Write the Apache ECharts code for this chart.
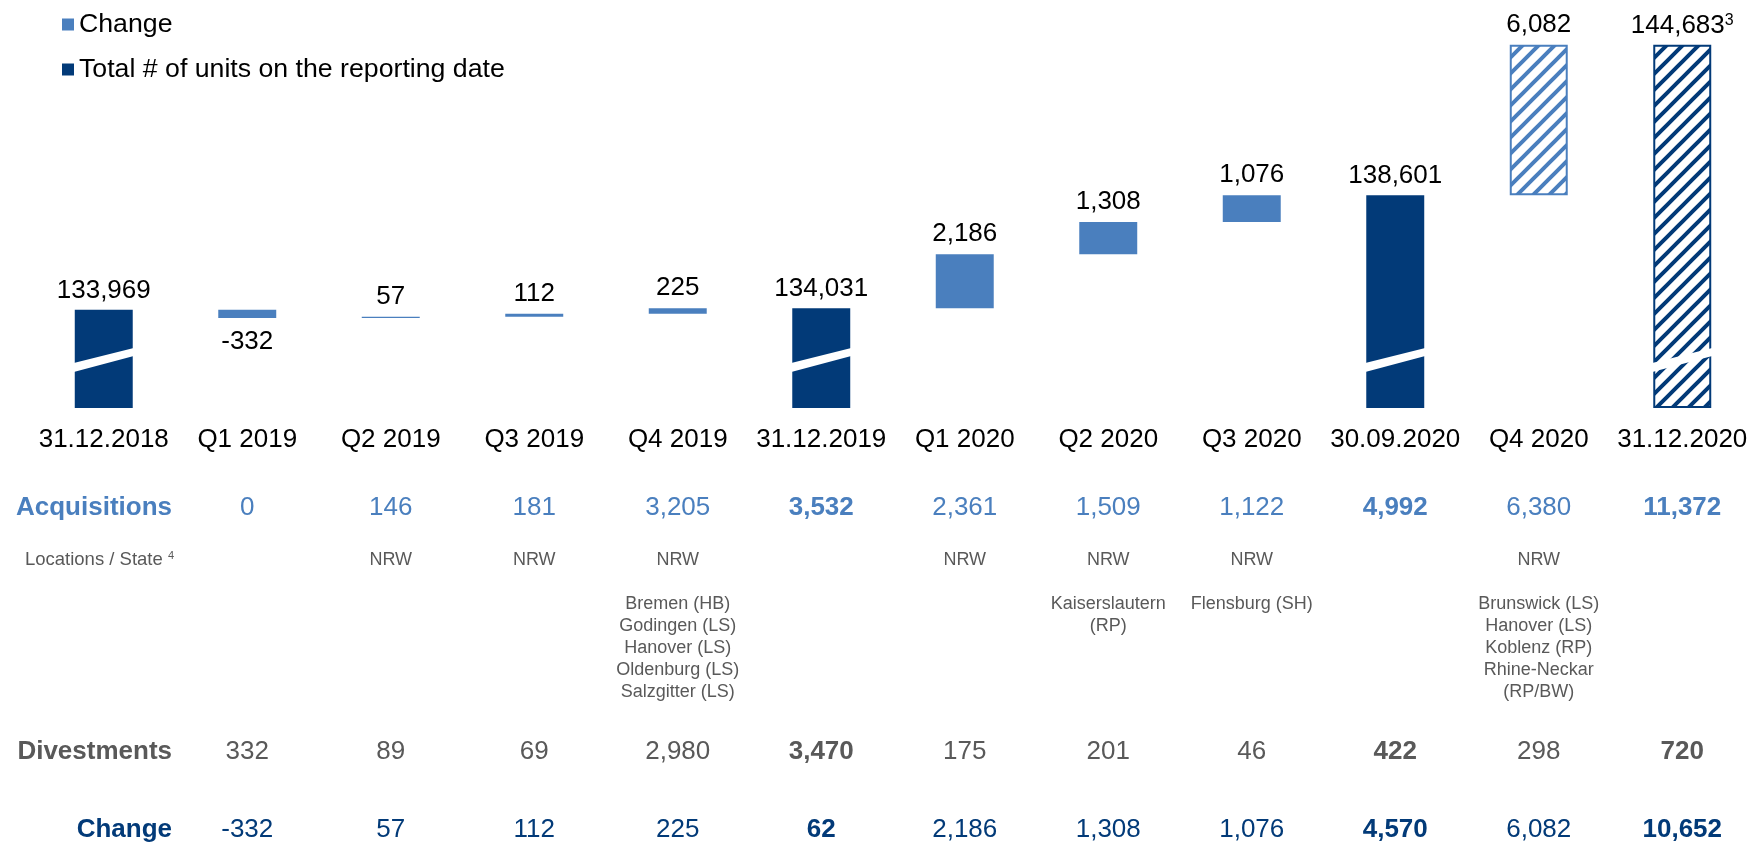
<!DOCTYPE html>
<html>
<head>
<meta charset="utf-8">
<title>Portfolio development</title>
<script src="https://cdn.jsdelivr.net/npm/echarts@6/dist/echarts.min.js"></script>
<style>
  html, body { margin: 0; padding: 0; background: #ffffff; }
  #chart { width: 1754px; height: 844px; }
</style>
</head>
<body>
<div id="chart"></div>
<script>
// ---- data -------------------------------------------------------------
const categories = ['31.12.2018', 'Q1 2019', 'Q2 2019', 'Q3 2019', 'Q4 2019', '31.12.2019',
                    'Q1 2020', 'Q2 2020', 'Q3 2020', '30.09.2020', 'Q4 2020', '31.12.2020'];
// units on the reporting date (null = quarter column)
const totals  = [133969, null, null, null, null, 134031, null, null, null, 138601, null, 144683];
// quarterly net change (null = reporting-date column)
const changes = [null, -332, 57, 112, 225, null, 2186, 1308, 1076, null, 6082, null];
// columns shown as outlook (hatched)
const outlook = [false, false, false, false, false, false, false, false, false, false, true, true];
// footnote markers on the total labels
const totalNotes = ['', '', '', '', '', '', '', '', '', '', '', '3'];

const acquisitions = [null, 0, 146, 181, 3205, 3532, 2361, 1509, 1122, 4992, 6380, 11372];
const states       = ['', '', 'NRW', 'NRW', 'NRW', '', 'NRW', 'NRW', 'NRW', '', 'NRW', ''];
const cities = [
  [], [], [], [],
  ['Bremen (HB)', 'Godingen (LS)', 'Hanover (LS)', 'Oldenburg (LS)', 'Salzgitter (LS)'],
  [], [],
  ['Kaiserslautern', '(RP)'],
  ['Flensburg (SH)'],
  [],
  ['Brunswick (LS)', 'Hanover (LS)', 'Koblenz (RP)', 'Rhine-Neckar', '(RP/BW)'],
  []
];
const divestments = [null, 332, 89, 69, 2980, 3470, 175, 201, 46, 422, 298, 720];
const netChange   = [null, -332, 57, 112, 225, 62, 2186, 1308, 1076, 4570, 6082, 10652];

const rowHeaders = ['Acquisitions', 'Locations / State', 'Divestments', 'Change'];
const seriesNames = ['Change', 'Total # of units on the reporting date'];

// ---- styling ----------------------------------------------------------
const LIGHT = '#4a7fbe';
const NAVY  = '#023a78';
const GREY  = '#595959';
const FONT  = '"Liberation Sans", Arial, Helvetica, sans-serif';
const Y_MIN = 130000, Y_MAX = 145000;
const BAR_RATIO = 0.404;

const fmt = v => (v == null ? '' : Number(v).toLocaleString('en-US'));
const isSubtotal = categories.map((c, i) => totals[i] != null && i > 0);

// diagonal stripe tile used for the outlook bars
function hatch(color) {
  const P = 16;
  const c = document.createElement('canvas');
  c.width = P; c.height = P;
  const g = c.getContext('2d');
  g.strokeStyle = color;
  g.lineWidth = 4;
  g.beginPath();
  g.moveTo(-P / 2, P / 2); g.lineTo(P / 2, -P / 2);
  g.moveTo(0, P);          g.lineTo(P, 0);
  g.moveTo(P / 2, 1.5 * P); g.lineTo(1.5 * P, P / 2);
  g.stroke();
  return { image: c, repeat: 'repeat' };
}

// ---- waterfall geometry from the data ----------------------------------
const changeData = [];
const totalData = [];
let running = totals[0];
categories.forEach((c, i) => {
  if (totals[i] != null) {
    running = totals[i];
    totalData.push([i, totals[i]]);
  } else if (changes[i] != null) {
    const next = running + changes[i];
    changeData.push([i, Math.min(running, next), Math.max(running, next), changes[i]]);
    running = next;
  }
});

function renderChange(params, api) {
  const i = api.value(0), lo = api.value(1), hi = api.value(2), d = api.value(3);
  const w = api.size([1, 0])[0] * BAR_RATIO;
  const top = api.coord([i, hi]);
  const bot = api.coord([i, lo]);
  const h = Math.max(bot[1] - top[1], 1.2);
  const hatched = outlook[i];
  const shape = hatched
    ? { x: top[0] - w / 2 + 1, y: top[1] + 1, width: w - 2, height: h - 2 }
    : { x: top[0] - w / 2, y: top[1], width: w, height: h };
  return {
    type: 'rect',
    shape: shape,
    style: hatched ? { fill: hatch(LIGHT), stroke: LIGHT, lineWidth: 2 } : { fill: LIGHT },
    textContent: {
      type: 'text',
      style: { text: fmt(d), fontSize: 26, fontFamily: FONT, fill: '#000' }
    },
    textConfig: { position: d < 0 ? 'bottom' : 'top', distance: d < 0 ? 11 : 7 }
  };
}

function renderTotal(params, api) {
  const i = api.value(0), v = api.value(1);
  const w = api.size([1, 0])[0] * BAR_RATIO;
  const top = api.coord([i, v]);
  const base = api.coord([i, Y_MIN]);
  const x0 = top[0] - w / 2, x1 = top[0] + w / 2, yb = base[1];
  const hatched = outlook[i];
  const shape = hatched
    ? { x: x0 + 1, y: top[1] + 1, width: w - 2, height: yb - top[1] - 2 }
    : { x: x0, y: top[1], width: w, height: yb - top[1] };
  const note = totalNotes[i] ? '{sup|' + totalNotes[i] + '}' : '';
  return {
    type: 'group',
    children: [
      {
        type: 'rect',
        shape: shape,
        style: hatched ? { fill: hatch(NAVY), stroke: NAVY, lineWidth: 2 } : { fill: NAVY },
        textContent: {
          type: 'text',
          style: {
            text: fmt(v) + note, fontSize: 26, fontFamily: FONT, fill: '#000',
            rich: { sup: { fontSize: 16, fontFamily: FONT, fill: '#000', verticalAlign: 'top' } }
          }
        },
        textConfig: { position: 'top', distance: 6 }
      },
      // axis-break slash across the truncated bar
      {
        type: 'polygon',
        shape: { points: [[x0 - 1, yb - 36], [x1 + 1, yb - 52], [x1 + 1, yb - 60], [x0 - 1, yb - 45]] },
        style: { fill: '#ffffff' }
      }
    ]
  };
}

// ---- table rows drawn as extra category axes ---------------------------
function rowAxis(values, offset, color, size, lineHeight) {
  const fs = size || 26;
  const lh = lineHeight || undefined;
  return {
    type: 'category',
    gridIndex: 0,
    position: 'bottom',
    offset: offset,
    data: values,
    axisLine: { show: false },
    axisTick: { show: false },
    splitLine: { show: false },
    axisLabel: {
      interval: 0,
      margin: 0,
      hideOverlap: false,
      fontSize: fs,
      lineHeight: lh,
      fontFamily: FONT,
      color: color,
      formatter: (val, idx) => (val === '' ? '' : (isSubtotal[idx] ? '{b|' + val + '}' : val)),
      rich: { b: { fontWeight: 'bold', fontSize: fs, lineHeight: lh, fontFamily: FONT, color: color } }
    }
  };
}

const locationLabels = categories.map((c, i) =>
  [states[i]].concat(cities[i].length ? [''].concat(cities[i]) : []).join('\n'));

const chart = echarts.init(document.getElementById('chart'), null, { renderer: 'canvas' });

chart.setOption({
  animation: false,
  backgroundColor: '#ffffff',
  textStyle: { fontFamily: FONT },
  legend: {
    data: seriesNames,
    orient: 'vertical',
    left: 57,
    top: 6,
    icon: 'rect',
    itemWidth: 12,
    itemHeight: 12,
    itemGap: 18,
    itemTextGap: 5,
    textStyle: { fontSize: 26.7, fontFamily: FONT, color: '#000' }
  },
  grid: { left: 32, top: 37, width: 1725, height: 371 },
  xAxis: [
    {
      type: 'category',
      data: categories,
      axisLine: { show: false },
      axisTick: { show: false },
      axisLabel: { interval: 0, margin: 19, fontSize: 26, fontFamily: FONT, color: '#000' }
    },
    rowAxis(acquisitions.map(fmt), 87, LIGHT),
    rowAxis(locationLabels, 141, GREY, 18, 22),
    rowAxis(divestments.map(fmt), 331, GREY),
    rowAxis(netChange.map(fmt), 409, NAVY)
  ],
  yAxis: { type: 'value', min: Y_MIN, max: Y_MAX, show: false },
  graphic: [
    { type: 'text', x: 172, y: 508, style: { text: rowHeaders[0], align: 'right', verticalAlign: 'middle', fontSize: 26, fontWeight: 'bold', fontFamily: FONT, fill: LIGHT } },
    { type: 'text', x: 174, y: 560, style: { text: rowHeaders[1] + ' {sup|4}', align: 'right', verticalAlign: 'middle', fontSize: 18.5, fontFamily: FONT, fill: GREY,
        rich: { sup: { fontSize: 11, fontFamily: FONT, fill: GREY, verticalAlign: 'top' } } } },
    { type: 'text', x: 172, y: 752, style: { text: rowHeaders[2], align: 'right', verticalAlign: 'middle', fontSize: 26, fontWeight: 'bold', fontFamily: FONT, fill: GREY } },
    { type: 'text', x: 172, y: 830, style: { text: rowHeaders[3], align: 'right', verticalAlign: 'middle', fontSize: 26, fontWeight: 'bold', fontFamily: FONT, fill: NAVY } }
  ],
  series: [
    {
      name: seriesNames[0],
      type: 'custom',
      xAxisIndex: 0,
      itemStyle: { color: LIGHT },
      encode: { x: 0, y: [1, 2] },
      renderItem: renderChange,
      data: changeData
    },
    {
      name: seriesNames[1],
      type: 'custom',
      xAxisIndex: 0,
      itemStyle: { color: NAVY },
      encode: { x: 0, y: 1 },
      renderItem: renderTotal,
      data: totalData
    }
  ]
});
</script>
</body>
</html>
